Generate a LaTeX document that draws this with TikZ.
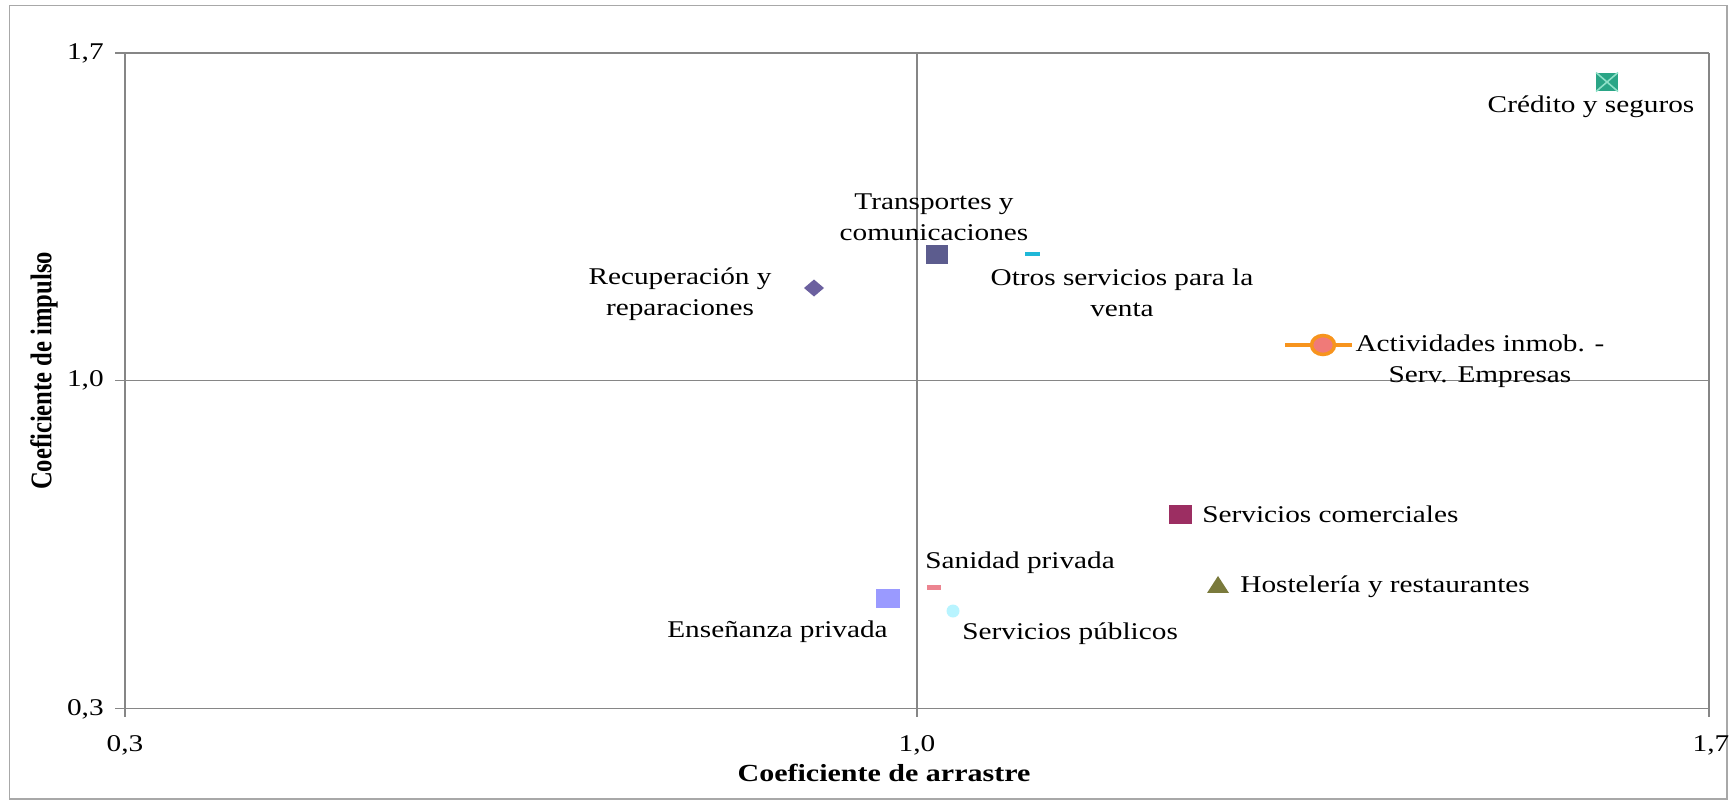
\documentclass[tikz,border=0pt]{standalone}
\usepackage{graphicx}
\usepackage{fontspec}
\setmainfont{Liberation Serif}[FakeStretch=1.22]
\newfontfamily\plainserif{Liberation Serif}
\usetikzlibrary{shapes.geometric}
\definecolor{gridgray}{HTML}{868686}
\definecolor{framegray}{HTML}{A8A8A8}
\definecolor{tealA}{HTML}{2AA586}
\definecolor{tealX}{HTML}{8FE0C8}
\definecolor{slateC}{HTML}{5C5C8E}
\definecolor{otrosC}{HTML}{1FB8D8}
\definecolor{recupC}{HTML}{6B609F}
\definecolor{orangeL}{HTML}{F7941D}
\definecolor{pinkC}{HTML}{F07A78}
\definecolor{comercC}{HTML}{9C2E62}
\definecolor{oliveC}{HTML}{7A7A3C}
\definecolor{sanidadC}{HTML}{EC8490}
\definecolor{ensenC}{HTML}{9A9AFF}
\definecolor{publC}{HTML}{B8F4FF}
\begin{document}
\begin{tikzpicture}[x=0.02cm,y=-0.02cm,
  lbl/.style={inner sep=0pt, align=center, font=\fontsize{13.66}{17.6}\selectfont},
  ticklbl/.style={inner sep=0pt, font=\fontsize{13.66}{16}\selectfont},
  axtitle/.style={inner sep=0pt, font=\bfseries\fontsize{14}{17}\selectfont},
  gridline/.style={draw=gridgray, line width=0.8pt},
  mk/.style={inner sep=0pt, outer sep=0pt, draw=none}]
\useasboundingbox (0,0) rectangle (1730,801);
% frame
\draw[framegray, line width=0.9pt] (9.5,5.5) rectangle (1727,799);
% plot corners
\coordinate (tl) at (125,53);
\coordinate (tr) at (1709,53);
\coordinate (bl) at (125,708.5);
\coordinate (br) at (1709,708.5);
\coordinate (ml) at (125,380.5);
\coordinate (mr) at (1709,380.5);
\coordinate (tm) at (917,53);
\coordinate (bm) at (917,708.5);
% grid lines with ticks
\draw[gridline] ([xshift=-10*0.02cm]tl) -- (tr);
\draw[gridline] ([xshift=-10*0.02cm]ml) -- (mr);
\draw[gridline] ([xshift=-10*0.02cm]bl) -- (br);
\draw[gridline] (tl) -- ([yshift=-8*0.02cm]bl);
\draw[gridline] (tm) -- ([yshift=-8*0.02cm]bm);
\draw[gridline] (tr) -- ([yshift=-8*0.02cm]br);
% tick labels
\node[ticklbl, anchor=east] (y17) at (104,53) {1,7};
\node[ticklbl, anchor=east] (y10) at (104,380.5) {1,0};
\node[ticklbl, anchor=east] (y03) at (104,709) {0,3};
\node[ticklbl] (x03) at (125,745) {0,3};
\node[ticklbl] (x10) at (917,745) {1,0};
\node[ticklbl] (x17) at (1711,745) {1,7};
% axis titles
\node[axtitle] (xtitle) at (884,773) {Coeficiente de arrastre};
\node[inner sep=0pt, rotate=90] (ytitle) at (44,371) {\scalebox{1}[1.22]{\plainserif\bfseries\fontsize{14}{17}\selectfont Coeficiente de impulso}};
% markers
\node[mk, rectangle, fill=tealA, minimum width=0.44cm, minimum height=0.38cm] (mcred) at (1607,82) {};
\draw[tealX, line width=0.9pt] (mcred.north west) -- (mcred.south east);
\draw[tealX, line width=0.9pt] (mcred.north east) -- (mcred.south west);
\node[mk, rectangle, fill=slateC, minimum width=0.44cm, minimum height=0.38cm] (mtrans) at (937,254) {};
\node[mk, rectangle, fill=otrosC, minimum width=0.30cm, minimum height=0.08cm] (motros) at (1032,254) {};
\node[mk, diamond, fill=recupC, minimum width=0.40cm, minimum height=0.34cm] (mrecup) at (814,288) {};
\coordinate (actA) at (1285,345);
\coordinate (actB) at (1352,345);
\draw[orangeL, line width=2.8pt] (actA) -- (actB);
\node[mk, ellipse, fill=pinkC, draw=orangeL, line width=2pt, minimum width=0.46cm, minimum height=0.38cm] (mact) at (1323,345) {};
\node[mk, rectangle, fill=comercC, minimum width=0.46cm, minimum height=0.38cm] (mcomerc) at (1180,514) {};
\node[mk, isosceles triangle, shape border rotate=90, isosceles triangle stretches, fill=oliveC, minimum width=0.44cm, minimum height=0.34cm] (mhost) at (1218,587) {};
\node[mk, rectangle, fill=sanidadC, minimum width=0.28cm, minimum height=0.10cm] (msan) at (934,587) {};
\node[mk, rectangle, fill=ensenC, minimum width=0.48cm, minimum height=0.38cm] (mensen) at (888,598) {};
\node[mk, circle, fill=publC, minimum size=0.26cm] (mpubl) at (953,611) {};
% labels
\node[lbl] (lcred) at (1591,107) {Crédito y seguros};
\node[lbl] (ltrans) at (934,217) {Transportes y\\comunicaciones};
\node[lbl] (lotros) at (1122,293) {Otros servicios para la\\venta};
\node[lbl] (lrecup) at (680,294) {Recuperación y\\reparaciones};
\node[lbl] (lact) at (1480,361) {Actividades inmob. -\\Serv. Empresas};
\node[lbl, anchor=west] (lcomerc) at (1202,514) {Servicios comerciales};
\node[lbl, anchor=west] (lhost) at (1240,587) {Hostelería y restaurantes};
\node[lbl, anchor=west] (lsan) at (925,563) {Sanidad privada};
\node[lbl, anchor=east] (lensen) at (888,632) {Enseñanza privada};
\node[lbl, anchor=west] (lpubl) at (962,634) {Servicios públicos};
\end{tikzpicture}
\end{document}
